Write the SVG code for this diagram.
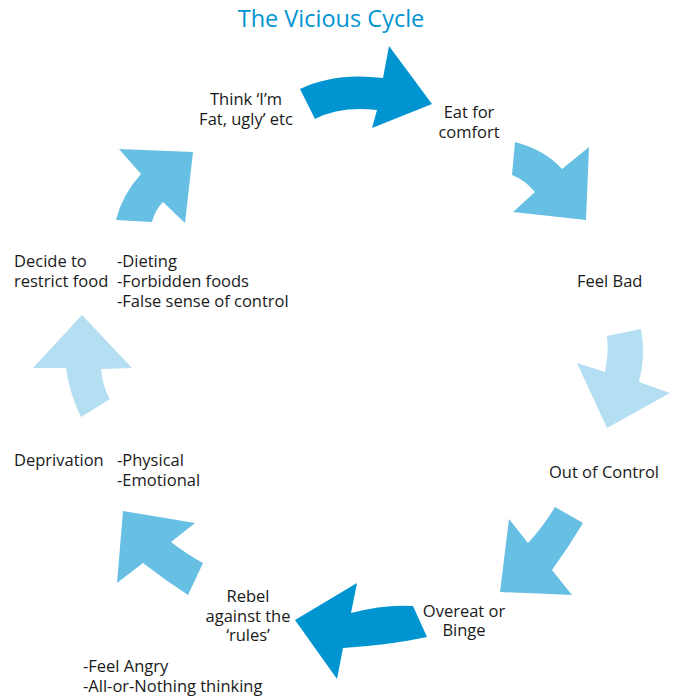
<svg xmlns="http://www.w3.org/2000/svg" width="675" height="698" viewBox="0 0 675 698">
<style>
text{font-family:"Open Sans","Noto Sans",sans-serif;font-size:16.5px;fill:#1a1a1a}
.title{font-size:23.5px;fill:#0094d1;text-anchor:middle}
.c{text-anchor:middle}
.dark{fill:#0094d1}
.mid{fill:#67bfe3}
.light{fill:#b4def1}
</style>
<rect width="675" height="698" fill="#fff"/>
<text class="title" x="331" y="27">The Vicious Cycle</text>
<g id="connectors">
<path class="dark" d="M300,89 Q335,72 383,78 L389,46 L432,104 L372,128 L377,110 Q340,106 315,119 Z"/>
<path class="mid" d="M515,142 Q545,150 562,169 L589,147 L586,220 L513,212 L535,192 Q525,180 512,175 Z"/>
<path class="light" d="M607,336 L641,329 Q646,355 639,382 L670,393 L607,428 L577,363 L605,372 Q609,352 607,336 Z"/>
<path class="mid" d="M555,507 L583,523 Q568,548 552,570 L572,595 L500,592 L509,519 L528,543 Q543,527 555,507 Z"/>
<path class="dark" d="M413,606 Q385,604 351,613 L357,583 L295,620 L337,679 L343,648 Q390,645 427,637 Z"/>
<path class="mid" d="M123,511 L195,523 L171,542 Q188,555 203,563 L188,595 Q165,580 143,563 L117,583 Z"/>
<path class="light" d="M82,315 L132,368 L101,369 Q103,388 110,399 L81,417 Q70,395 66,368 L33,368 Z"/>
<path class="mid" d="M119,149 L193,152 L185,223 L163,202 Q155,210 152,222 L116,220 Q122,195 141,174 Z"/>
</g>
<g id="think"><text class="c" x="246" y="105">Think ‘I’m</text><text class="c" x="246" y="125">Fat, ugly’ etc</text></g>
<g id="eat"><text class="c" x="469" y="118">Eat for</text><text class="c" x="469" y="138">comfort</text></g>
<g id="feelbad"><text x="577" y="287">Feel Bad</text></g>
<g id="outofcontrol"><text x="549" y="478">Out of Control</text></g>
<g id="overeat"><text class="c" x="464" y="617">Overeat or</text><text class="c" x="464" y="636">Binge</text></g>
<g id="rebel"><text class="c" x="248" y="602">Rebel</text><text class="c" x="248" y="622">against the</text><text class="c" x="248" y="641">‘rules’</text></g>
<g id="rebel-notes"><text x="83" y="672">-Feel Angry</text><text x="83" y="692">-All-or-Nothing thinking</text></g>
<g id="deprivation"><text x="14" y="466">Deprivation</text><text x="117" y="466">-Physical</text><text x="117" y="486">-Emotional</text></g>
<g id="decide"><text x="14" y="267">Decide to</text><text x="14" y="287">restrict food</text><text x="117" y="267">-Dieting</text><text x="117" y="287">-Forbidden foods</text><text x="117" y="307">-False sense of control</text></g>
</svg>
